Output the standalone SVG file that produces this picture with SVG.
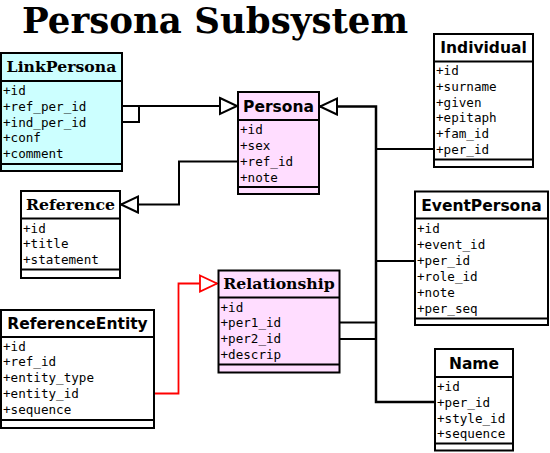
<svg xmlns="http://www.w3.org/2000/svg" width="550" height="453" viewBox="0 0 550 453">
<style>
.box{stroke:#000;stroke-width:2}
.sep{stroke:#000;stroke-width:2}
.cyan{fill:#ccffff}
.pink{fill:#ffddff}
.white{fill:#ffffff}
.hs{font-family:"DejaVu Sans",sans-serif;font-weight:bold;font-size:15.5px;text-anchor:middle}
.hr{font-family:"DejaVu Serif",serif;font-weight:bold;font-size:15.7px;text-anchor:middle}
.at{font-family:"DejaVu Sans Mono",monospace;font-size:12.6px}
.title{font-family:"DejaVu Serif",serif;font-weight:bold;font-size:35.6px}
.conn{fill:none;stroke:#000;stroke-width:2}
.red{fill:none;stroke:#ff0000;stroke-width:1.8}
</style>
<defs>
<marker id="tri" markerUnits="userSpaceOnUse" markerWidth="22" markerHeight="22" refX="17" refY="8" orient="auto" viewBox="-2 -2 22 20">
<path d="M0,0 L17,8 L0,16 Z" fill="#fff" stroke="#000" stroke-width="2"/>
</marker>
<marker id="trired" markerUnits="userSpaceOnUse" markerWidth="22" markerHeight="22" refX="17" refY="8" orient="auto" viewBox="-2 -2 22 20">
<path d="M0,0 L17,8 L0,16 Z" fill="#fff" stroke="#ff0000" stroke-width="1.8"/>
</marker>
</defs>
<rect width="550" height="453" fill="#fff"/>
<text class="title" x="22" y="33">Persona Subsystem</text>

<g id="connectors">
<path class="conn" d="M122,122 H139 V106"/>
<path class="conn" d="M122,106 H237" marker-end="url(#tri)"/>
<path class="conn" d="M237,161.5 H179 V204.5 H121" marker-end="url(#tri)"/>
<path class="conn" style="stroke-width:2.5" d="M434,402 H376 V106.5 H320" marker-end="url(#tri)"/>
<path class="conn" d="M376,149 H433"/>
<path class="conn" d="M376,261 H414"/>
<path class="conn" d="M340,322.5 H376"/>
<path class="conn" d="M340,339 H376"/>
<path class="red" d="M154,393.5 H178.5 V283.5 H217" marker-end="url(#trired)"/>
</g>

<g id="LinkPersona">
<rect class="box cyan" x="1" y="53" width="121" height="118"/>
<line class="sep" x1="1" y1="81" x2="122" y2="81"/>
<line class="sep" x1="1" y1="164" x2="122" y2="164"/>
<text class="hr" x="61.5" y="72">LinkPersona</text>
<text class="at" x="3" y="95">+id</text>
<text class="at" x="3" y="110.8">+ref_per_id</text>
<text class="at" x="3" y="126.6">+ind_per_id</text>
<text class="at" x="3" y="142.4">+conf</text>
<text class="at" x="3" y="158.2">+comment</text>
</g>

<g id="Persona">
<rect class="box pink" x="238" y="92" width="81" height="102"/>
<line class="sep" x1="238" y1="120" x2="319" y2="120"/>
<line class="sep" x1="238" y1="187" x2="319" y2="187"/>
<text class="hs" x="278.5" y="111.7">Persona</text>
<text class="at" x="240" y="133.5">+id</text>
<text class="at" x="240" y="149.5">+sex</text>
<text class="at" x="240" y="165.5">+ref_id</text>
<text class="at" x="240" y="181.5">+note</text>
</g>

<g id="Individual">
<rect class="box white" x="434" y="34" width="99" height="133"/>
<line class="sep" x1="434" y1="61.5" x2="533" y2="61.5"/>
<line class="sep" x1="434" y1="159.5" x2="533" y2="159.5"/>
<text class="hs" x="483.5" y="53">Individual</text>
<text class="at" x="436" y="75">+id</text>
<text class="at" x="436" y="90.8">+surname</text>
<text class="at" x="436" y="106.6">+given</text>
<text class="at" x="436" y="122.4">+epitaph</text>
<text class="at" x="436" y="138.2">+fam_id</text>
<text class="at" x="436" y="154">+per_id</text>
</g>

<g id="Reference">
<rect class="box white" x="21" y="191" width="99" height="87"/>
<line class="sep" x1="21" y1="218.5" x2="120" y2="218.5"/>
<line class="sep" x1="21" y1="269.5" x2="120" y2="269.5"/>
<text class="hr" x="70.5" y="210">Reference</text>
<text class="at" x="23" y="232.5">+id</text>
<text class="at" x="23" y="248.3">+title</text>
<text class="at" x="23" y="264.1">+statement</text>
</g>

<g id="EventPersona">
<rect class="box white" x="415" y="191.5" width="133" height="133.5"/>
<line class="sep" x1="415" y1="218.5" x2="548" y2="218.5"/>
<line class="sep" x1="415" y1="318.5" x2="548" y2="318.5"/>
<text class="hs" x="481.5" y="210.5">EventPersona</text>
<text class="at" x="417" y="232.5">+id</text>
<text class="at" x="417" y="248.5">+event_id</text>
<text class="at" x="417" y="264.5">+per_id</text>
<text class="at" x="417" y="280.5">+role_id</text>
<text class="at" x="417" y="296.5">+note</text>
<text class="at" x="417" y="312.5">+per_seq</text>
</g>

<g id="Relationship">
<rect class="box pink" x="218.5" y="270.5" width="121" height="102"/>
<line class="sep" x1="218.5" y1="297.5" x2="339.5" y2="297.5"/>
<line class="sep" x1="218.5" y1="364.5" x2="339.5" y2="364.5"/>
<text class="hr" x="279" y="289">Relationship</text>
<text class="at" x="220.5" y="311.5">+id</text>
<text class="at" x="220.5" y="327.3">+per1_id</text>
<text class="at" x="220.5" y="343.1">+per2_id</text>
<text class="at" x="220.5" y="358.9">+descrip</text>
</g>

<g id="ReferenceEntity">
<rect class="box white" x="1" y="310" width="153" height="118"/>
<line class="sep" x1="1" y1="337" x2="154" y2="337"/>
<line class="sep" x1="1" y1="420" x2="154" y2="420"/>
<text class="hs" x="77.5" y="329">ReferenceEntity</text>
<text class="at" x="3" y="350.5">+id</text>
<text class="at" x="3" y="366.3">+ref_id</text>
<text class="at" x="3" y="382.1">+entity_type</text>
<text class="at" x="3" y="397.9">+entity_id</text>
<text class="at" x="3" y="413.7">+sequence</text>
</g>

<g id="Name">
<rect class="box white" x="435" y="349" width="78" height="101.5"/>
<line class="sep" x1="435" y1="377" x2="513" y2="377"/>
<line class="sep" x1="435" y1="443.5" x2="513" y2="443.5"/>
<text class="hs" x="474" y="368.5">Name</text>
<text class="at" x="437" y="391">+id</text>
<text class="at" x="437" y="406.8">+per_id</text>
<text class="at" x="437" y="422.6">+style_id</text>
<text class="at" x="437" y="438.4">+sequence</text>
</g>
</svg>
